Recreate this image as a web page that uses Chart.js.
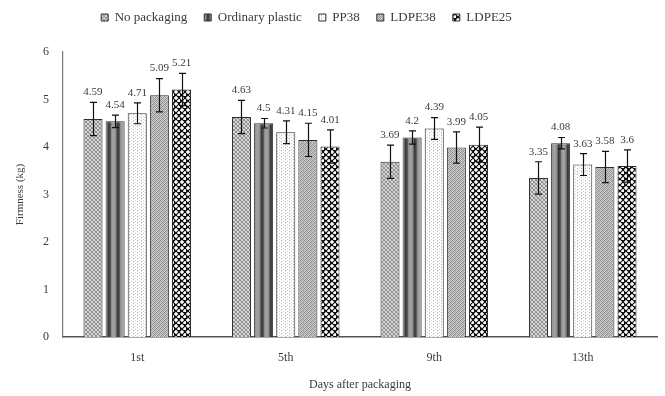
<!DOCTYPE html>
<html>
<head>
<meta charset="utf-8">
<script src="https://cdn.jsdelivr.net/npm/chart.js@4/dist/chart.umd.min.js"></script>
<style>
  html, body { margin: 0; padding: 0; background: #fff; }
  #wrap { width: 665px; height: 396px; }
</style>
</head>
<body>
<div id="wrap"><canvas id="c" width="665" height="396"></canvas></div>
<script>
// Firmness (kg) of fruit by packaging treatment and storage day
const days = ['1st', '5th', '9th', '13th'];
const seriesNames = ['No packaging', 'Ordinary plastic', 'PP38', 'LDPE38', 'LDPE25'];

const noPackaging     = [4.59, 4.63, 3.69, 3.35];
const ordinaryPlastic = [4.54, 4.5, 4.2, 4.08];
const pp38            = [4.71, 4.31, 4.39, 3.63];
const ldpe38          = [5.09, 4.15, 3.99, 3.58];
const ldpe25          = [5.21, 4.01, 4.05, 3.6];

// standard deviations shown as error bars
const noPackagingErr     = [0.35, 0.35, 0.35, 0.34];
const ordinaryPlasticErr = [0.13, 0.10, 0.14, 0.12];
const pp38Err            = [0.22, 0.24, 0.23, 0.23];
const ldpe38Err          = [0.35, 0.35, 0.33, 0.33];
const ldpe25Err          = [0.34, 0.35, 0.37, 0.34];

const yTicks = [0, 1, 2, 3, 4, 5, 6];

// ---- fill patterns built from small pixel tiles ----
function tile(w, h, paint) {
  const cv = document.createElement('canvas');
  cv.width = w; cv.height = h;
  const g = cv.getContext('2d');
  paint(g, w, h);
  return g.createPattern(cv, 'repeat');
}
function px(g, x, y, c) { g.fillStyle = c; g.fillRect(x, y, 1, 1); }

const fillNoPack = tile(4, 4, (g) => {
  g.fillStyle = '#d6d6d6'; g.fillRect(0, 0, 4, 4);
  for (let i = 0; i < 4; i++) { px(g, i, i, '#8a8a8a'); px(g, i, 3 - i, '#9a9a9a'); }
});
const fillOrdinary = tile(9, 1, (g) => {
  const cols = ['#3a3a3a', '#454545', '#5a5a5a', '#8e8e8e', '#9c9c9c', '#a2a2a2', '#9c9c9c', '#8e8e8e', '#6a6a6a'];
  cols.forEach((c, i) => px(g, i, 0, c));
});
const fillPP38 = tile(4, 3, (g) => {
  g.fillStyle = '#ffffff'; g.fillRect(0, 0, 4, 3);
  px(g, 1, 0, '#b4b4b4'); px(g, 1, 1, '#e6e6e6'); px(g, 3, 2, '#d0d0d0');
});
const fillLDPE38 = tile(4, 4, (g) => {
  const m = [
    ['#8c8c8c', '#c4c4c4', '#a6a6a6', '#d0d0d0'],
    ['#c8c8c8', '#9a9a9a', '#cfcfcf', '#8f8f8f'],
    ['#a8a8a8', '#d2d2d2', '#909090', '#bcbcbc'],
    ['#d4d4d4', '#8e8e8e', '#c0c0c0', '#a0a0a0']
  ];
  for (let y = 0; y < 4; y++) for (let x = 0; x < 4; x++) px(g, x, y, m[y][x]);
});
const fillLDPE25 = tile(6, 6, (g) => {
  g.fillStyle = '#111111'; g.fillRect(0, 0, 6, 6);
  g.fillStyle = '#ffffff';
  g.fillRect(1, 1, 2, 2); g.fillRect(4, 4, 2, 2);
  g.fillStyle = '#bbbbbb';
  g.fillRect(0, 1, 1, 2); g.fillRect(3, 1, 1, 2); g.fillRect(1, 0, 2, 1); g.fillRect(1, 3, 2, 1);
  g.fillRect(3, 4, 1, 2); g.fillRect(4, 3, 2, 1);
});

const values = [noPackaging, ordinaryPlastic, pp38, ldpe38, ldpe25];
const errors = [noPackagingErr, ordinaryPlasticErr, pp38Err, ldpe38Err, ldpe25Err];
const fills = [fillNoPack, fillOrdinary, fillPP38, fillLDPE38, fillLDPE25];

const SERIF = '"Liberation Serif", "Times New Roman", serif';
const TEXT = '#3a3a3a';

// error bars and value labels drawn on top of the bars
const errorBarPlugin = {
  id: 'errorBars',
  afterDatasetsDraw(chart) {
    const ctx = chart.ctx;
    const ys = chart.scales.y;
    ctx.save();
    chart.data.datasets.forEach((ds, di) => {
      const meta = chart.getDatasetMeta(di);
      meta.data.forEach((bar, i) => {
        const v = ds.data[i], e = ds.err[i];
        const yt = ys.getPixelForValue(v + e);
        const yb = ys.getPixelForValue(v - e);
        const x = Math.round(bar.x) + 0.5;
        ctx.strokeStyle = '#111';
        ctx.lineWidth = 1.2;
        ctx.beginPath();
        ctx.moveTo(x, yt); ctx.lineTo(x, yb);
        ctx.moveTo(x - 3.5, yt); ctx.lineTo(x + 3.5, yt);
        ctx.moveTo(x - 3.5, yb); ctx.lineTo(x + 3.5, yb);
        ctx.stroke();
        ctx.fillStyle = TEXT;
        ctx.font = '11px ' + SERIF;
        ctx.textAlign = 'center';
        ctx.textBaseline = 'middle';
        ctx.fillText(String(v), bar.x, yt - 10);
      });
    });
    ctx.restore();
  }
};

// moves the legend row up and a little left of centre
const legendShift = {
  id: 'legendShift',
  afterLayout(chart) {
    const lg = chart.legend;
    if (lg) {
      lg.left -= 22; lg.right -= 22;
      lg.top -= 18; lg.bottom -= 18;
    }
  }
};

new Chart(document.getElementById('c'), {
  type: 'bar',
  data: {
    labels: days,
    datasets: seriesNames.map((name, k) => ({
      label: name,
      data: values[k],
      err: errors[k],
      backgroundColor: fills[k],
      borderColor: '#2e2e2e',
      borderWidth: 1,
      categoryPercentage: 0.745,
      barPercentage: 0.86
    }))
  },
  options: {
    responsive: false,
    animation: false,
    devicePixelRatio: 1,
    layout: { padding: { left: 0, right: 8, top: 12, bottom: 0 } },
    plugins: {
      legend: {
        position: 'top',
        labels: {
          boxWidth: 7,
          boxHeight: 7,
          padding: 17,
          color: TEXT,
          font: { family: SERIF, size: 13 }
        }
      },
      tooltip: { enabled: false }
    },
    scales: {
      x: {
        grid: { display: false, drawTicks: false },
        border: { color: '#555', width: 1.5 },
        ticks: { color: TEXT, font: { family: SERIF, size: 12 }, padding: 14 },
        title: { display: true, text: 'Days after packaging', color: TEXT, font: { family: SERIF, size: 12 }, padding: { top: 12 } },
        afterFit(s) { s.height = 59; }
      },
      y: {
        min: 0, max: 6,
        afterBuildTicks(s) { s.ticks = yTicks.map(v => ({ value: v })); },
        grid: { display: false, drawTicks: false },
        border: { color: '#777', width: 1.2 },
        ticks: { color: TEXT, font: { family: SERIF, size: 12 }, padding: 14 },
        title: { display: true, text: 'Firmness (kg)', color: TEXT, font: { family: SERIF, size: 11 }, padding: { top: 14, bottom: 0 } },
        afterFit(s) { s.width = 63; }
      }
    }
  },
  plugins: [errorBarPlugin, legendShift]
});
</script>
</body>
</html>
